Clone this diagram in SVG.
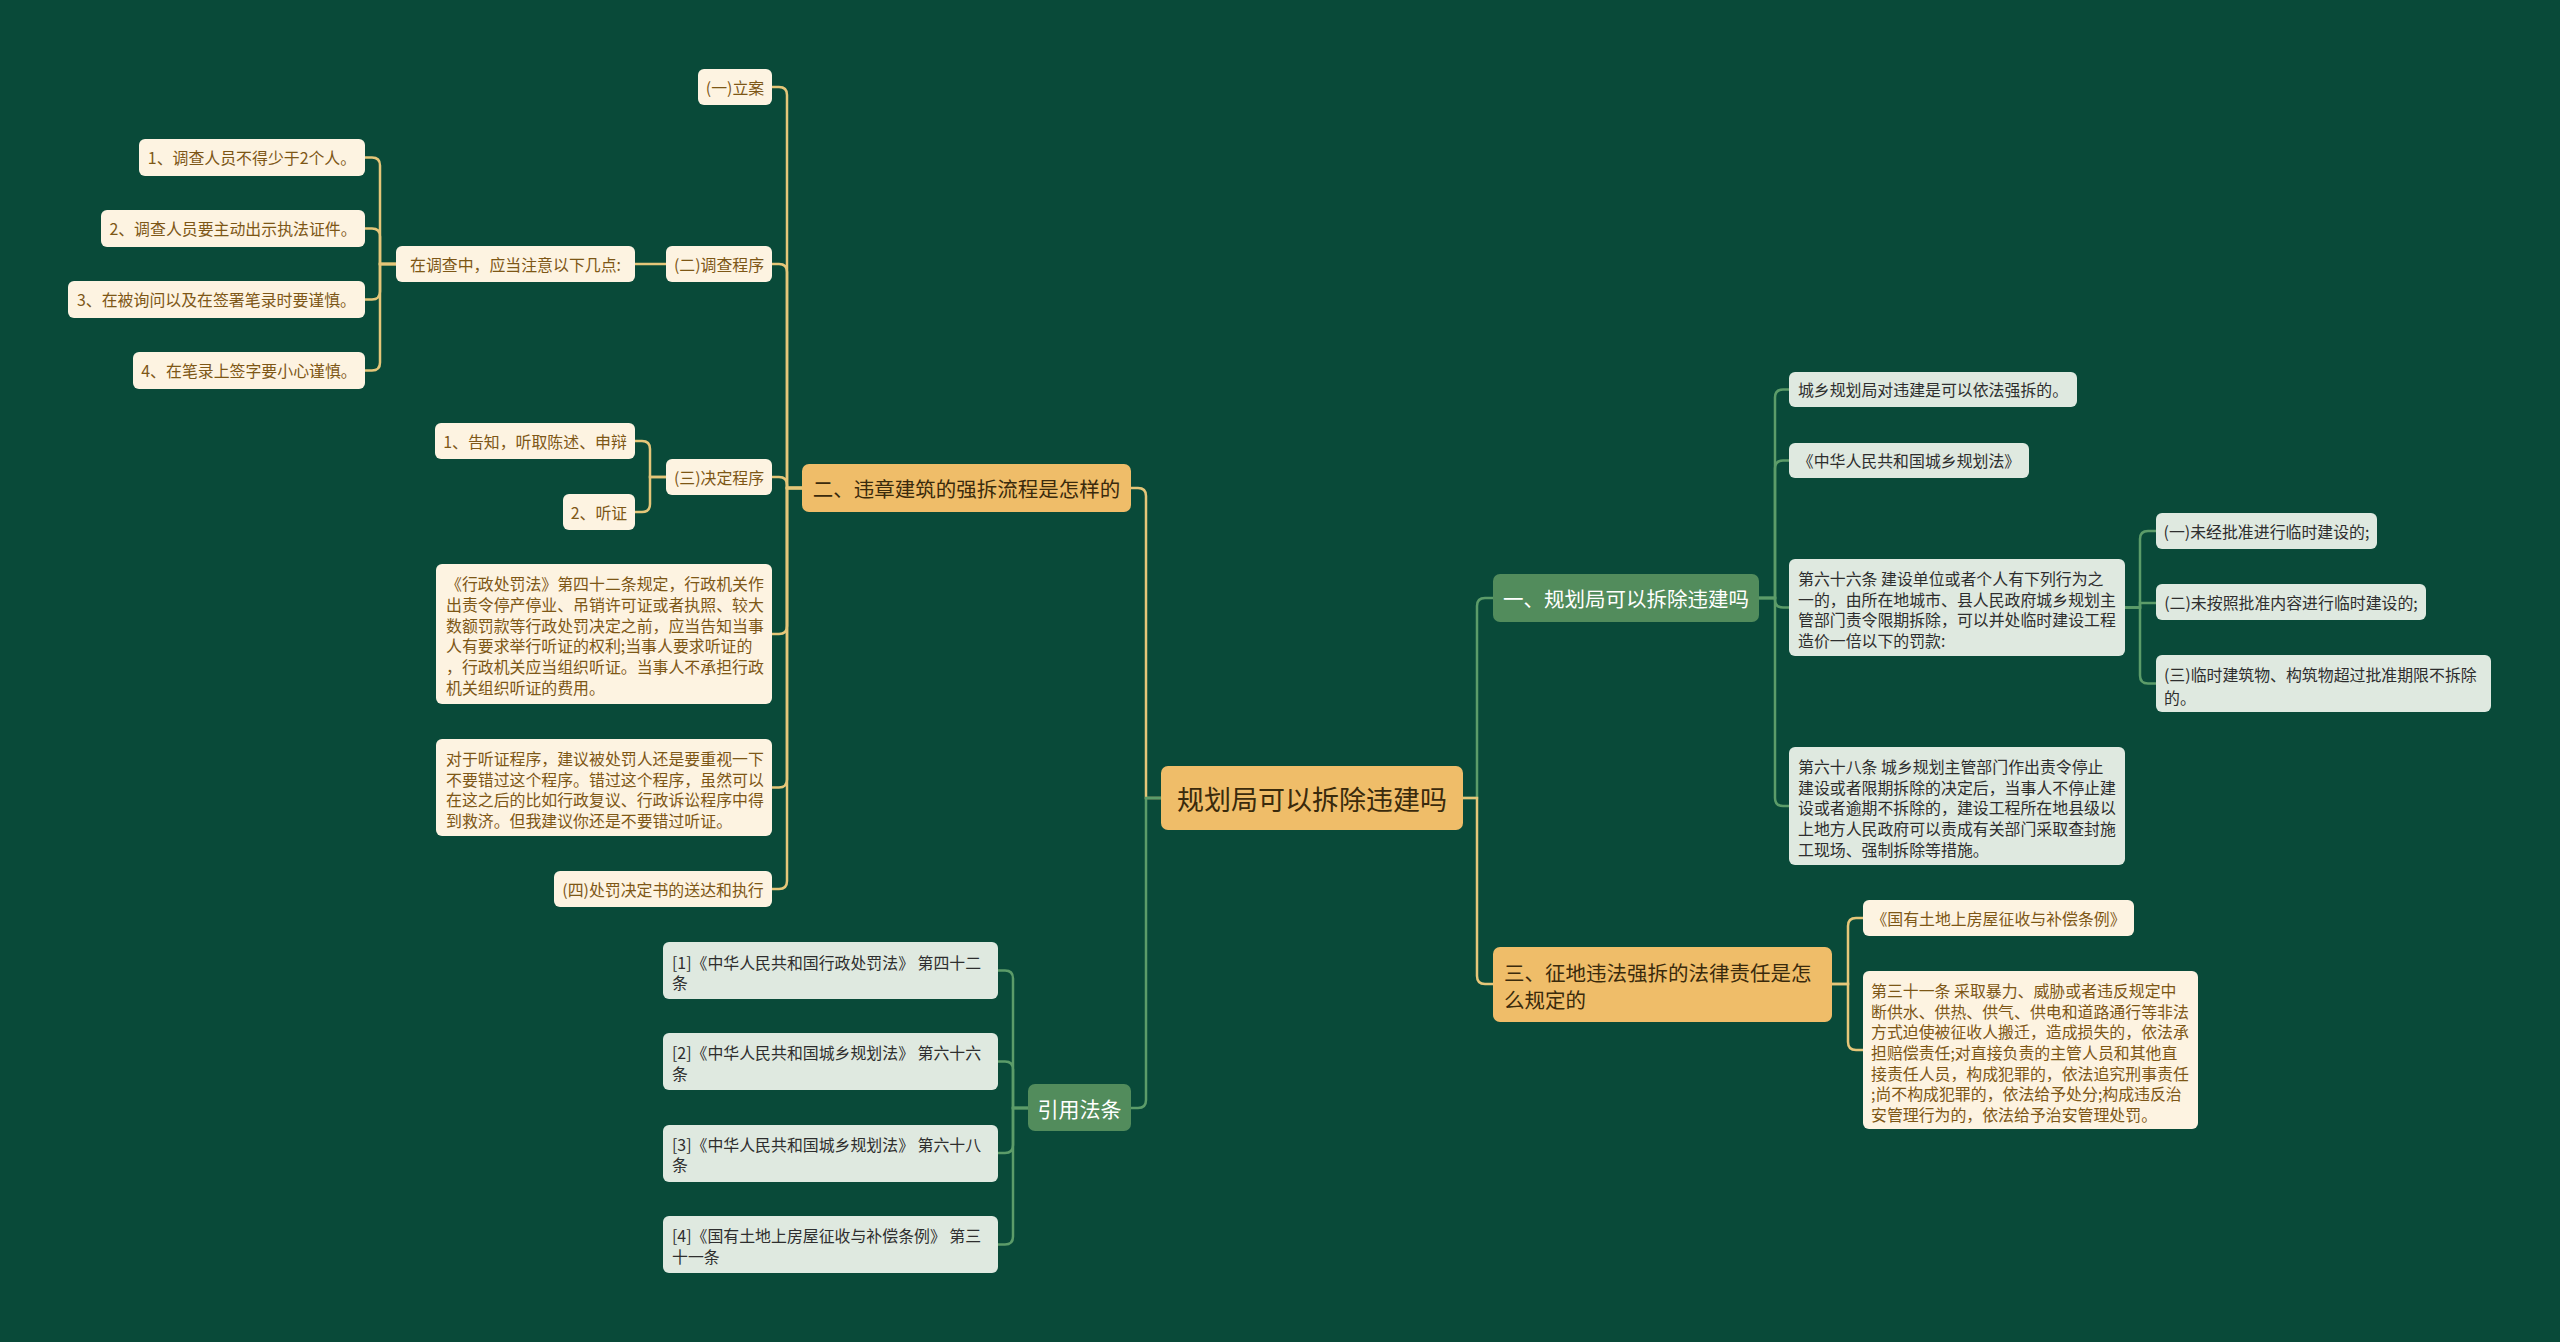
<svg xmlns="http://www.w3.org/2000/svg" width="2560" height="1342" viewBox="0 0 2560 1342">
<style>
text{font-family:"Noto Sans CJK SC","Noto Sans",sans-serif;dominant-baseline:central}
.ny{fill:#fdf3e1}
.ng{fill:#dfe9e0}
.by{fill:#efbd69}
.bg{fill:#528c5c}
.ty{fill:#7d5716;font-size:15.9px}
.tg{fill:#2e2e2e;font-size:15.9px}
.tby{fill:#3a2a0c;font-size:20.5px}
.tbg{fill:#ffffff;font-size:20.5px}
.c{text-anchor:middle}
.cy{stroke:#e5c679;stroke-width:2.5;fill:none}
.cg{stroke:#5c9c69;stroke-width:2.5;fill:none}
</style>
<rect width="2560" height="1342" fill="#094a39"/>
<g id="connectors">
<path class="cy" d="M802 488H787V95Q787 87 779 87H772"/>
<path class="cy" d="M802 488H787V272Q787 264 779 264H772"/>
<path class="cy" d="M802 488H787V485Q787 477 779 477H772"/>
<path class="cy" d="M802 488H787V626Q787 634 779 634H772"/>
<path class="cy" d="M802 488H787V779.5Q787 787.5 779 787.5H772"/>
<path class="cy" d="M802 488H787V881Q787 889 779 889H772"/>
<path class="cy" d="M666 264H635"/>
<path class="cy" d="M396 264H380V165.5Q380 157.5 372 157.5H365"/>
<path class="cy" d="M396 264H380V236.5Q380 228.5 372 228.5H365"/>
<path class="cy" d="M396 264H380V291.5Q380 299.5 372 299.5H365"/>
<path class="cy" d="M396 264H380V362.5Q380 370.5 372 370.5H365"/>
<path class="cy" d="M666 477H650V449Q650 441 642 441H635"/>
<path class="cy" d="M666 477H650V504Q650 512 642 512H635"/>
<path class="cy" d="M1161 798H1146V496Q1146 488 1138 488H1131"/>
<path class="cg" d="M1161 798H1146V1100Q1146 1108 1138 1108H1131"/>
<path class="cg" d="M1463 798H1477V606Q1477 598 1485 598H1493"/>
<path class="cy" d="M1463 798H1477V976Q1477 984 1485 984H1493"/>
<path class="cg" d="M1028 1108H1013V978.5Q1013 970.5 1005 970.5H998"/>
<path class="cg" d="M1028 1108H1013V1069.5Q1013 1061.5 1005 1061.5H998"/>
<path class="cg" d="M1028 1108H1013V1145Q1013 1153 1005 1153H998"/>
<path class="cg" d="M1028 1108H1013V1236.5Q1013 1244.5 1005 1244.5H998"/>
<path class="cg" d="M1759 598H1775V397.5Q1775 389.5 1783 389.5H1789"/>
<path class="cg" d="M1759 598H1775V468.5Q1775 460.5 1783 460.5H1789"/>
<path class="cg" d="M1759 598H1775V599.5Q1775 607.5 1783 607.5H1789"/>
<path class="cg" d="M1759 598H1775V798Q1775 806 1783 806H1789"/>
<path class="cg" d="M2125 607.5H2140V539Q2140 531 2148 531H2156"/>
<path class="cg" d="M2125 607.5H2140V603H2156"/>
<path class="cg" d="M2125 607.5H2140V675.5Q2140 683.5 2148 683.5H2156"/>
<path class="cy" d="M1832 984H1848V926Q1848 918 1856 918H1863"/>
<path class="cy" d="M1832 984H1848V1042Q1848 1050 1856 1050H1863"/>
</g>
<g id="root">
<rect x="1161" y="766" width="302" height="64" rx="7" fill="#efbd69"/>
<text x="1312" y="798" class="c" fill="#3a2a0c" font-size="27">规划局可以拆除违建吗</text>
</g>
<g id="b2">
<rect x="802" y="464" width="329" height="48" rx="7" class="by"/>
<text x="966.5" y="488" class="tby c">二、违章建筑的强拆流程是怎样的</text>
</g>
<g id="n_lian">
<rect x="698" y="69" width="74" height="36" rx="6" class="ny"/>
<text x="735" y="87" class="ty c">(一)立案</text>
</g>
<g id="n_diaocha">
<rect x="666" y="246" width="106" height="36" rx="6" class="ny"/>
<text x="719" y="264" class="ty c">(二)调查程序</text>
</g>
<g id="n_zhuyi">
<rect x="396" y="246" width="239" height="36" rx="6" class="ny"/>
<text x="515.5" y="264" class="ty c">在调查中，应当注意以下几点:</text>
</g>
<g id="n_z1">
<rect x="139" y="139" width="226" height="37" rx="6" class="ny"/>
<text x="252" y="157.5" class="ty c">1、调查人员不得少于2个人。</text>
</g>
<g id="n_z2">
<rect x="101" y="210" width="264" height="37" rx="6" class="ny"/>
<text x="233" y="228.5" class="ty c">2、调查人员要主动出示执法证件。</text>
</g>
<g id="n_z3">
<rect x="68" y="281" width="297" height="37" rx="6" class="ny"/>
<text x="216.5" y="299.5" class="ty c">3、在被询问以及在签署笔录时要谨慎。</text>
</g>
<g id="n_z4">
<rect x="133" y="352" width="232" height="37" rx="6" class="ny"/>
<text x="249" y="370.5" class="ty c">4、在笔录上签字要小心谨慎。</text>
</g>
<g id="n_jueding">
<rect x="666" y="459" width="106" height="36" rx="6" class="ny"/>
<text x="719" y="477" class="ty c">(三)决定程序</text>
</g>
<g id="n_gaozhi">
<rect x="435" y="423" width="200" height="36" rx="6" class="ny"/>
<text x="535" y="441" class="ty c">1、告知，听取陈述、申辩</text>
</g>
<g id="n_tingzheng">
<rect x="563" y="494" width="72" height="36" rx="6" class="ny"/>
<text x="599" y="512" class="ty c">2、听证</text>
</g>
<g id="n_xzcf">
<rect x="436" y="564" width="336" height="140" rx="6" class="ny"/>
<text class="ty"><tspan x="446" y="583.3">《行政处罚法》第四十二条规定，行政机关作</tspan><tspan x="446" y="604">出责令停产停业、吊销许可证或者执照、较大</tspan><tspan x="446" y="624.7">数额罚款等行政处罚决定之前，应当告知当事</tspan><tspan x="446" y="645.3">人有要求举行听证的权利;当事人要求听证的</tspan><tspan x="446" y="666">，行政机关应当组织听证。当事人不承担行政</tspan><tspan x="446" y="686.7">机关组织听证的费用。</tspan></text>
</g>
<g id="n_duiyu">
<rect x="436" y="739" width="336" height="97" rx="6" class="ny"/>
<text class="ty"><tspan x="446" y="758">对于听证程序，建议被处罚人还是要重视一下</tspan><tspan x="446" y="778.7">不要错过这个程序。错过这个程序，虽然可以</tspan><tspan x="446" y="799.3">在这之后的比如行政复议、行政诉讼程序中得</tspan><tspan x="446" y="820">到救济。但我建议你还是不要错过听证。</tspan></text>
</g>
<g id="n_si">
<rect x="554" y="871" width="218" height="36" rx="6" class="ny"/>
<text x="663" y="889" class="ty c">(四)处罚决定书的送达和执行</text>
</g>
<g id="b_yinyong">
<rect x="1028" y="1084" width="103" height="47" rx="7" class="bg"/>
<text x="1079.5" y="1108" class="c" fill="#ffffff" font-size="21">引用法条</text>
</g>
<g id="r1">
<rect x="663" y="942" width="335" height="57" rx="6" class="ng"/>
<text class="tg"><tspan x="672" y="961.5">[1]《中华人民共和国行政处罚法》 第四十二</tspan><tspan x="672" y="981.5">条</tspan></text>
</g>
<g id="r2">
<rect x="663" y="1033" width="335" height="57" rx="6" class="ng"/>
<text class="tg"><tspan x="672" y="1052">[2]《中华人民共和国城乡规划法》 第六十六</tspan><tspan x="672" y="1072.5">条</tspan></text>
</g>
<g id="r3">
<rect x="663" y="1125" width="335" height="57" rx="6" class="ng"/>
<text class="tg"><tspan x="672" y="1143.5">[3]《中华人民共和国城乡规划法》 第六十八</tspan><tspan x="672" y="1164">条</tspan></text>
</g>
<g id="r4">
<rect x="663" y="1216" width="335" height="57" rx="6" class="ng"/>
<text class="tg"><tspan x="672" y="1235">[4]《国有土地上房屋征收与补偿条例》 第三</tspan><tspan x="672" y="1255.5">十一条</tspan></text>
</g>
<g id="b1">
<rect x="1493" y="574" width="266" height="48" rx="7" class="bg"/>
<text x="1626" y="598" class="tbg c">一、规划局可以拆除违建吗</text>
</g>
<g id="g_qiangchai">
<rect x="1789" y="372" width="288" height="35" rx="6" class="ng"/>
<text x="1933" y="389.5" class="tg c">城乡规划局对违建是可以依法强拆的。</text>
</g>
<g id="g_guihuafa">
<rect x="1789" y="443" width="240" height="35" rx="6" class="ng"/>
<text x="1909" y="460.5" class="tg c">《中华人民共和国城乡规划法》</text>
</g>
<g id="g_66">
<rect x="1789" y="559" width="336" height="97" rx="6" class="ng"/>
<text class="tg"><tspan x="1798" y="578">第六十六条 建设单位或者个人有下列行为之</tspan><tspan x="1798" y="598.7">一的，由所在地城市、县人民政府城乡规划主</tspan><tspan x="1798" y="619.3">管部门责令限期拆除，可以并处临时建设工程</tspan><tspan x="1798" y="640">造价一倍以下的罚款:</tspan></text>
</g>
<g id="g_66a">
<rect x="2156" y="513" width="221" height="36" rx="6" class="ng"/>
<text x="2266.5" y="531" class="tg c">(一)未经批准进行临时建设的;</text>
</g>
<g id="g_66b">
<rect x="2156" y="584" width="270" height="36" rx="6" class="ng"/>
<text x="2291" y="602" class="tg c">(二)未按照批准内容进行临时建设的;</text>
</g>
<g id="g_66c">
<rect x="2156" y="655" width="335" height="57" rx="6" class="ng"/>
<text class="tg"><tspan x="2164" y="674">(三)临时建筑物、构筑物超过批准期限不拆除</tspan><tspan x="2164" y="696.5">的。</tspan></text>
</g>
<g id="g_68">
<rect x="1789" y="747" width="336" height="118" rx="6" class="ng"/>
<text class="tg"><tspan x="1798" y="766">第六十八条 城乡规划主管部门作出责令停止</tspan><tspan x="1798" y="786.7">建设或者限期拆除的决定后，当事人不停止建</tspan><tspan x="1798" y="807.3">设或者逾期不拆除的，建设工程所在地县级以</tspan><tspan x="1798" y="828">上地方人民政府可以责成有关部门采取查封施</tspan><tspan x="1798" y="848.5">工现场、强制拆除等措施。</tspan></text>
</g>
<g id="b3">
<rect x="1493" y="947" width="339" height="75" rx="7" class="by"/>
<text class="tby"><tspan x="1504" y="971.5">三、征地违法强拆的法律责任是怎</tspan><tspan x="1504" y="998.5">么规定的</tspan></text>
</g>
<g id="y_tiaoli">
<rect x="1863" y="900" width="271" height="36" rx="6" class="ny"/>
<text x="1998.5" y="918" class="ty c">《国有土地上房屋征收与补偿条例》</text>
</g>
<g id="y_31">
<rect x="1863" y="971" width="335" height="158" rx="6" class="ny"/>
<text class="ty"><tspan x="1871" y="990">第三十一条 采取暴力、威胁或者违反规定中</tspan><tspan x="1871" y="1010.7">断供水、供热、供气、供电和道路通行等非法</tspan><tspan x="1871" y="1031.3">方式迫使被征收人搬迁，造成损失的，依法承</tspan><tspan x="1871" y="1052">担赔偿责任;对直接负责的主管人员和其他直</tspan><tspan x="1871" y="1072.7">接责任人员，构成犯罪的，依法追究刑事责任</tspan><tspan x="1871" y="1093.3">;尚不构成犯罪的，依法给予处分;构成违反治</tspan><tspan x="1871" y="1114">安管理行为的，依法给予治安管理处罚。</tspan></text>
</g>
</svg>
